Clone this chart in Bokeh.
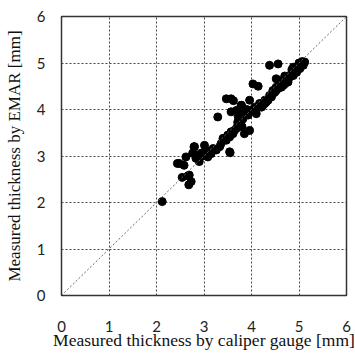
from bokeh.plotting import figure
from bokeh.models import Range1d, FixedTicker, Slope
from bokeh.embed import file_html
from bokeh.resources import INLINE

caliper = [
    2.12, 2.44, 2.48, 2.54, 2.66, 2.68, 2.69, 2.73, 2.62, 2.76, 2.80, 2.83, 2.94, 2.90,
    3.01, 3.01, 3.08, 3.11, 3.19, 3.26, 3.33, 3.36, 3.47, 3.54, 3.55, 3.50, 3.57, 3.64,
    3.71, 3.78, 3.85, 3.80, 3.29, 3.47, 3.57, 3.57, 3.78, 3.96, 3.68, 3.75, 3.85, 3.93,
    3.82, 3.71, 3.78, 3.68, 3.61, 3.54, 3.96, 4.07, 4.17, 4.28, 4.38, 4.45, 4.52, 4.10,
    4.03, 4.14, 4.38, 4.56, 4.52, 5.12, 5.09, 5.02, 4.95, 4.88, 4.81, 4.77, 4.70, 4.63,
    4.56, 4.49, 4.42, 4.35, 4.28, 4.21, 5.05, 4.98, 4.84, 4.74, 4.67, 4.52, 4.45, 4.31,
    4.24, 4.91, 4.88, 3.62, 3.79, 2.79, 2.87, 2.97, 3.05, 3.15, 3.40, 3.90, 3.72, 4.00,
    4.60, 4.70, 4.85, 5.00, 5.07, 2.58,
]
emar = [
    2.02, 2.84, 2.84, 2.54, 2.57, 2.38, 2.59, 2.45, 2.98, 3.06, 3.20, 2.95, 3.06, 2.88,
    3.23, 3.09, 2.98, 3.09, 3.16, 3.13, 3.20, 3.27, 3.34, 3.09, 3.07, 3.45, 3.52, 3.55,
    3.66, 3.73, 3.48, 3.63, 3.84, 4.23, 4.23, 3.95, 4.09, 4.20, 3.98, 3.91, 3.95, 3.88,
    3.80, 3.73, 3.66, 3.59, 3.48, 3.41, 3.55, 4.05, 4.13, 4.20, 4.30, 4.41, 4.48, 3.91,
    4.55, 4.50, 4.95, 4.98, 4.66, 5.02, 4.95, 4.88, 4.80, 4.73, 4.70, 4.59, 4.55, 4.48,
    4.45, 4.37, 4.27, 4.20, 4.13, 4.05, 4.98, 4.91, 4.77, 4.66, 4.52, 4.41, 4.34, 4.16,
    4.09, 4.88, 4.91, 4.19, 4.09, 3.20, 3.02, 3.00, 3.12, 3.05, 3.38, 4.00, 3.85, 3.98,
    4.62, 4.72, 4.86, 5.00, 5.03, 2.80,
]
ticks = [0, 1, 2, 3, 4, 5, 6]

p = figure(width=355, height=353, output_backend="svg", toolbar_location=None,
           x_range=Range1d(0, 6), y_range=Range1d(0, 6),
           min_border_left=61, min_border_right=9, min_border_top=16, min_border_bottom=58)
p.background_fill_color = "white"
p.border_fill_color = "white"
p.outline_line_color = "#333333"
p.outline_line_width = 1.5

for ax in (p.xaxis[0], p.yaxis[0]):
    ax.ticker = FixedTicker(ticks=ticks)
    ax.major_tick_in = 0
    ax.major_tick_out = 0
    ax.minor_tick_in = 0
    ax.minor_tick_out = 0
    ax.axis_line_color = None
    ax.major_label_text_font = "Lato"
    ax.major_label_text_font_size = "15px"
    ax.major_label_text_color = "#222222"
    ax.axis_label_text_font = "Liberation Serif"
    ax.axis_label_text_font_style = "normal"
    ax.axis_label_text_color = "#111111"

p.xaxis.axis_label = "Measured thickness by caliper gauge [mm]"
p.yaxis.axis_label = "Measured thickness by EMAR [mm]"
p.xaxis.axis_label_text_font_size = "17.5px"
p.yaxis.axis_label_text_font_size = "17px"
p.xaxis.major_label_standoff = 25
p.xaxis.axis_label_standoff = -5
p.yaxis.major_label_standoff = 16
p.yaxis.axis_label_standoff = 10

for g in (p.xgrid[0], p.ygrid[0]):
    g.ticker = FixedTicker(ticks=ticks)
    g.grid_line_color = "#444444"
    g.grid_line_dash = "2 2"
    g.grid_line_width = 1

p.add_layout(Slope(gradient=1, y_intercept=0, line_color="#666666", line_dash="2 2", line_width=1))

p.scatter(caliper, emar, size=8, color="black")

open("out.html", "w").write(file_html(p, INLINE))
